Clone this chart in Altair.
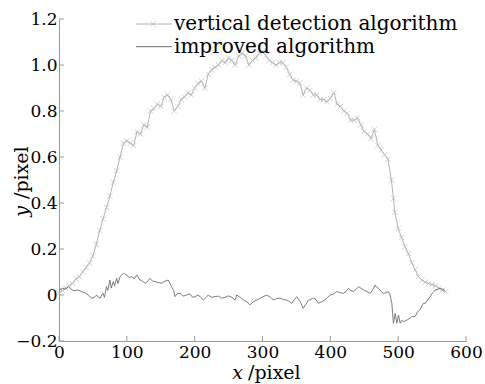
import altair as alt
import pandas as pd

# ---- data ----
vd_x = [0, 5, 10, 15, 20, 25, 30, 35, 40, 45, 50, 55, 60, 65, 70, 75, 80, 85, 90, 95,
        100, 105, 110, 115, 120, 125, 130, 135, 140, 145, 150, 155, 160, 165, 170, 175,
        180, 185, 190, 195, 200, 205, 210, 215, 220, 225, 230, 235, 240, 245, 250, 255,
        260, 265, 270, 275, 280, 285, 290, 295, 300, 305, 310, 315, 320, 325, 330, 335,
        340, 345, 350, 355, 360, 365, 370, 375, 380, 385, 390, 395, 400, 405, 410, 415,
        420, 425, 430, 435, 440, 445, 450, 455, 460, 465, 470, 475, 480, 485, 490, 493,
        495, 500, 505, 510, 515, 520, 525, 530, 535, 540, 545, 550, 555, 560, 565, 570]
vd_y = [0.01, 0.02, 0.03, 0.04, 0.05, 0.07, 0.08, 0.10, 0.12, 0.14, 0.17, 0.22, 0.28, 0.33,
        0.38, 0.43, 0.49, 0.54, 0.60, 0.66, 0.67, 0.66, 0.65, 0.71, 0.70, 0.74, 0.73, 0.80,
        0.81, 0.83, 0.82, 0.86, 0.87, 0.85, 0.80, 0.82, 0.85, 0.86, 0.88, 0.87, 0.90, 0.92,
        0.93, 0.90, 0.96, 0.98, 0.99, 1.00, 1.02, 1.01, 1.03, 1.02, 1.00, 1.04, 1.05, 1.04,
        1.00, 1.02, 1.03, 1.05, 1.06, 1.04, 1.02, 1.01, 1.00, 1.01, 1.01, 0.99, 0.96, 0.935,
        0.93, 0.92, 0.87, 0.90, 0.89, 0.87, 0.87, 0.85, 0.85, 0.84, 0.855, 0.88, 0.83, 0.82,
        0.80, 0.79, 0.76, 0.76, 0.77, 0.74, 0.71, 0.70, 0.68, 0.72, 0.65, 0.63, 0.61, 0.59,
        0.50, 0.42, 0.36, 0.29, 0.25, 0.21, 0.18, 0.14, 0.11, 0.08, 0.065, 0.055, 0.05, 0.045,
        0.04, 0.03, 0.02, 0.015]

im_x = [0, 5, 10, 14, 18, 21, 25, 28, 33, 38, 43, 48, 52, 55.6, 58, 60.5, 63, 65, 67, 70,
        72, 75, 77, 80, 82, 85, 87, 90, 95, 100, 104, 107, 111, 114.6, 119.5, 123, 127, 131,
        134, 138, 141.6, 146, 151.5, 156, 161, 166, 169, 171, 174, 178.5, 183, 188, 193, 197,
        200.6, 205, 209, 212.8, 217, 220, 225, 230, 235, 240, 245, 249.7, 255, 259.6, 262,
        267, 272, 277, 281.7, 286, 291.6, 296, 301, 305, 308.7, 312, 316, 321, 326, 331, 336,
        340, 343, 347, 350.6, 355.5, 360, 364, 367.7, 371, 375, 379, 382.4, 387, 392, 396,
        400, 405, 409.6, 414, 419, 423, 426.7, 430, 434, 438, 441.5, 445, 449, 454, 458.7,
        462, 466, 468, 471, 475, 478, 482, 485.7, 488, 490.7, 493, 495.6, 498, 500.5, 503,
        505.5, 508, 513, 517.7, 520, 525, 528, 532, 537, 540, 547, 551, 554.6, 558, 562, 566,
        569]
im_y = [0.02, 0.03, 0.025, 0.036, 0.025, 0.019, 0.02, 0.022, 0.015, 0.01, 0.0, -0.014, -0.01,
        0.0, -0.01, -0.014, 0.0, 0.007, -0.01, 0.036, 0.02, 0.065, 0.03, 0.058, 0.04, 0.073,
        0.05, 0.08, 0.094, 0.087, 0.075, 0.08, 0.07, 0.087, 0.065, 0.06, 0.051, 0.06, 0.073,
        0.06, 0.058, 0.055, 0.051, 0.06, 0.065, 0.036, 0.02, -0.007, 0.005, 0.007, -0.005, 0.0,
        0.005, -0.01, -0.007, 0.0, -0.01, -0.022, -0.01, 0.0, -0.01, -0.007, -0.005, -0.014,
        -0.01, -0.004, -0.01, -0.022, 0.0, -0.01, -0.022, -0.03, -0.043, -0.03, -0.022,
        -0.015, -0.007, -0.002, -0.004, -0.01, -0.022, -0.015, -0.014, -0.02, -0.022, -0.03,
        -0.036, -0.02, -0.007, -0.029, -0.058, -0.04, -0.022, -0.02, -0.014, -0.02, -0.036,
        -0.03, -0.022, -0.01, 0.0, 0.005, 0.015, 0.01, 0.007, 0.015, 0.029, 0.02, 0.015, 0.025,
        0.036, 0.03, 0.022, 0.015, 0.007, 0.02, 0.043, 0.035, 0.029, 0.015, 0.007, 0.01, 0.015,
        0.0, -0.036, -0.123, -0.08, -0.123, -0.087, -0.123, -0.11, -0.116, -0.109, -0.10,
        -0.094, -0.094, -0.075, -0.065, -0.036, -0.036, -0.007, 0.01, 0.022, 0.025, 0.029,
        0.025, 0.02]

x_ticks = [0, 100, 200, 300, 400, 500, 600]
y_ticks = [-0.2, 0, 0.2, 0.4, 0.6, 0.8, 1.0, 1.2]
legend_labels = ["vertical detection algorithm", "improved algorithm"]

FONT = "DejaVu Serif"
W, H = 407, 322
C_VD = "#b4b4b4"
C_IM = "#6e6e6e"
C_AX = "#9a9a9a"

vd = pd.DataFrame({"x": vd_x, "y": vd_y})
im = pd.DataFrame({"x": im_x, "y": im_y})
xt = pd.DataFrame({"x": x_ticks})
yt = pd.DataFrame({"y": y_ticks})

xs = alt.Scale(domain=[0, 600], nice=False, zero=False)
ys = alt.Scale(domain=[-0.2, 1.2], nice=False, zero=False)

xaxis = alt.Axis(values=x_ticks, ticks=False, grid=False, domainColor=C_AX, labelFont=FONT,
                 labelFontSize=17, labelColor="black", labelPadding=3, title=None,
                 labelFlush=False)
yaxis = alt.Axis(values=y_ticks, ticks=False, grid=False, domainColor=C_AX, labelFont=FONT,
                 labelFontSize=17, labelColor="black", labelPadding=2, title=None,
                 labelExpr="datum.value == 0 ? '0' : format(datum.value, '.1f')")

X = alt.X("x:Q", scale=xs, axis=xaxis)
Y = alt.Y("y:Q", scale=ys, axis=yaxis)

cross = "M-1,-1L1,1M-1,1L1,-1"

vd_line = alt.Chart(vd).mark_line(color=C_VD, strokeWidth=1).encode(x=X, y=Y)
vd_pts = alt.Chart(vd).mark_point(shape=cross, size=28, color=C_VD, strokeWidth=0.9,
                                  filled=False).encode(x=X, y=Y)
im_line = alt.Chart(im).mark_line(color=C_IM, strokeWidth=0.9).encode(x=X, y=Y)

xtick = alt.Chart(xt).mark_rule(color=C_AX).encode(x=X, y=alt.value(H), y2=alt.value(H - 5))
ytick = alt.Chart(yt).mark_rule(color=C_AX).encode(y=Y, x=alt.value(0), x2=alt.value(5))

# legend
leg = pd.DataFrame({"label": legend_labels, "ly": [5, 27.7]})
leg_rule1 = alt.Chart(leg.iloc[[0]]).mark_rule(color=C_VD).encode(
    x=alt.value(77), x2=alt.value(113), y=alt.value(5))
leg_pt1 = alt.Chart(leg.iloc[[0]]).mark_point(shape=cross, size=24, color=C_VD,
                                              strokeWidth=0.9).encode(
    x=alt.value(94), y=alt.value(5))
leg_rule2 = alt.Chart(leg.iloc[[1]]).mark_rule(color=C_IM).encode(
    x=alt.value(77), x2=alt.value(113), y=alt.value(27.7))
leg_txt = alt.Chart(leg).mark_text(align="left", baseline="middle", font=FONT, fontSize=20,
                                   color="black").encode(
    x=alt.value(115), y=alt.Y("ly:Q", scale=None), text="label:N")

# axis titles
title_df = pd.DataFrame({"a": [1]})
xt_italic = alt.Chart(title_df).mark_text(text="x", font=FONT, fontSize=19, fontStyle="italic",
                                          align="right", baseline="alphabetic").encode(
    x=alt.value(184), y=alt.value(360))
xt_rest = alt.Chart(title_df).mark_text(text="/pixel", font=FONT, fontSize=19,
                                        align="left", baseline="alphabetic").encode(
    x=alt.value(189), y=alt.value(360))
yt_italic = alt.Chart(title_df).mark_text(text="y", font=FONT, fontSize=19, fontStyle="italic",
                                          align="right", baseline="alphabetic", angle=270).encode(
    x=alt.value(-31), y=alt.value(187))
yt_rest = alt.Chart(title_df).mark_text(text="/pixel", font=FONT, fontSize=19,
                                        align="left", baseline="alphabetic", angle=270).encode(
    x=alt.value(-31), y=alt.value(180))

chart = alt.layer(
    vd_line, vd_pts, im_line, xtick, ytick,
    leg_rule1, leg_pt1, leg_rule2, leg_txt,
    xt_italic, xt_rest, yt_italic, yt_rest,
).properties(
    width=W, height=H,
    autosize=alt.AutoSizeParams(type="none"),
    padding={"left": 59, "top": 19, "right": 19, "bottom": 43},
).configure_view(stroke=None)

chart.save("out.html", embed_options={"renderer": "svg", "actions": False})
